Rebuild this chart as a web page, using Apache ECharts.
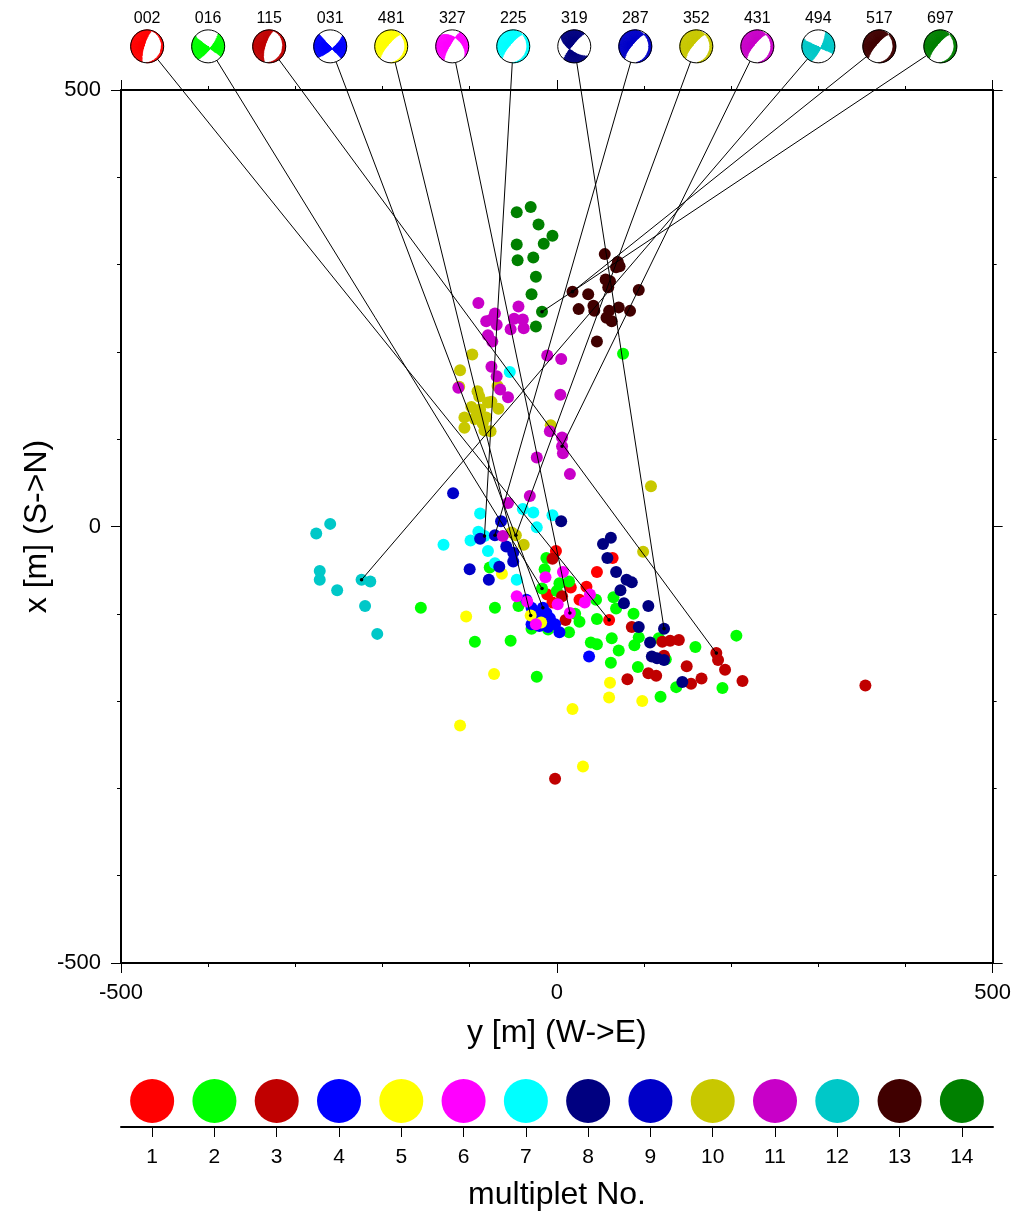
<!DOCTYPE html>
<html>
<head>
<meta charset="utf-8">
<script src="https://cdn.jsdelivr.net/npm/echarts@6/dist/echarts.min.js"></script>
<style>
  html, body { margin: 0; padding: 0; background: #fff; }
  #chart { width: 1014px; height: 1215px; }
</style>
</head>
<body>
<div id="chart"></div>
<script>
const FONT = 'Liberation Sans, Arial, Helvetica, sans-serif';

// multiplet colours, 1..14
const colors = ['#ff0000', '#00ff00', '#c00000', '#0000ff', '#ffff00', '#ff00ff', '#00ffff',
  '#000080', '#0000c8', '#c8c800', '#c800c8', '#00c8c8', '#400000', '#008000'];
const multipletLabels = ['1', '2', '3', '4', '5', '6', '7', '8', '9', '10', '11', '12', '13', '14'];

// hypocentres [y (W->E), x (S->N)] in metres, per multiplet
const m1 = [[-1, -28], [46, -52], [64, -36], [16, -70], [34, -69], [26, -84], [-11, -78], [-5, -87], [60, -107], [-18, -99]];
const m2 = [[76, 198], [-156, -93], [-71, -93], [-94, -132], [-53, -131], [-23, -172], [-77, -47], [-44, -91], [-12, -36],
  [-29, -117], [-10, -118], [14, -121], [26, -109], [46, -106], [45, -84], [3, -65], [14, -63], [39, -133], [46, -135],
  [0, -74], [65, -81], [68, -94], [88, -100], [94, -127], [89, -136], [63, -128], [71, -142], [62, -156], [93, -161],
  [119, -195], [137, -184], [159, -138], [190, -185], [206, -125], [125, -152], [117, -128], [21, -100], [-14, -49], [-17, -71]];
const m3 = [[-5, -37], [10, -107], [6, -80], [86, -115], [121, -132], [130, -131], [140, -130], [123, -148], [149, -160],
  [105, -168], [114, -171], [81, -175], [154, -180], [166, -174], [183, -145], [185, -153], [193, -164], [213, -177],
  [354, -182], [-2, -289]];
const m4 = [[-35, -84], [-29, -93], [-16, -93], [-12, -99], [-8, -105], [-2, -112], [3, -121], [-20, -114], [-29, -112],
  [-23, -101], [-10, -115], [37, -149]];
const m5 = [[-63, -54], [-104, -103], [-72, -169], [-111, -228], [-30, -102], [-18, -110], [18, -209], [61, -179],
  [60, -196], [98, -200], [30, -275]];
const m6 = [[-13, -58], [7, -52], [-46, -80], [-34, -86], [-24, -112], [1, -89], [15, -99], [32, -87], [38, -78]];
const m7 = [[-54, 177], [-88, 15], [-130, -21], [-99, -16], [-90, -6], [-79, -28], [-71, -42], [-46, -61], [-39, 20],
  [-27, 16], [-23, -1], [-5, 13], [-83, -11]];
const m8 = [[5, 6], [53, -20], [62, -13], [58, -36], [68, -52], [80, -61], [86, -64], [73, -73], [77, -88], [105, -91],
  [123, -117], [94, -115], [107, -133], [109, -149], [115, -151], [123, -153], [144, -178]];
const m9 = [[-119, 38], [-64, 6], [-71, -10], [-88, -14], [-58, -23], [-50, -30], [-50, -40], [-66, -46], [-78, -61], [-100, -49]];
const m10 = [[-97, 197], [-111, 179], [-112, 160], [-68, 161], [-91, 155], [-89, 149], [-79, 142], [-75, 143], [-67, 135],
  [-98, 137], [-88, 134], [-106, 125], [-93, 126], [-81, 125], [-94, 123], [-85, 118], [-106, 113], [-83, 110], [-76, 109],
  [-7, 116], [-52, -7], [-47, -10], [-38, -21], [108, 46], [99, -29]];
const m11 = [[-90, 256], [-71, 244], [-81, 235], [-69, 231], [-75, 237], [-44, 252], [-49, 238], [-39, 237], [-53, 226],
  [-38, 227], [-79, 219], [-74, 212], [-11, 196], [5, 192], [-75, 183], [-69, 172], [-113, 159], [-65, 157], [-56, 148],
  [4, 151], [-8, 109], [6, 102], [6, 92], [7, 84], [-23, 79], [15, 60], [-31, 35], [-56, 27], [-62, -11]];
const m12 = [[-260, 3], [-276, -8], [-272, -51], [-272, -61], [-252, -73], [-224, -61], [-214, -63], [-220, -91], [-206, -123]];
const m13 = [[55, 312], [70, 303], [72, 298], [68, 297], [18, 269], [36, 266], [56, 283], [61, 281], [59, 274], [94, 271],
  [25, 249], [42, 253], [43, 247], [60, 247], [71, 251], [84, 247], [57, 239], [63, 235], [46, 212]];
const m14 = [[-46, 360], [-30, 366], [-21, 346], [-5, 333], [-15, 324], [-46, 323], [-45, 305], [-27, 308], [-24, 286],
  [-29, 266], [-17, 246], [-24, 229]];
const multiplets = [m1, m2, m3, m4, m5, m6, m7, m8, m9, m10, m11, m12, m13, m14];

// focal mechanisms: event id, multiplet, the event it points to, T and P axes [trend, plunge]
const mechIds = ['002', '016', '115', '031', '481', '327', '225', '319', '287', '352', '431', '494', '517', '697'];
const mechGroup = [1, 2, 3, 4, 5, 6, 7, 8, 9, 10, 11, 12, 13, 14];
const mechEventY = [60, -17, 183, -16, -30, 15, -83, 123, -71, -47, 6, -224, 18, -17];
const mechEventX = [-107, -71, -145, -93, -102, -99, -11, -117, -10, -10, 92, -61, 269, 246];
const mechT = [[285, 30], [262, 8], [285, 25], [272, 10], [302, 28], [268, 20], [302, 28], [350, 10], [300, 28], [300, 28],
  [300, 28], [250, 8], [302, 28], [302, 28]];
const mechP = [[110, 58], [352, 12], [110, 62], [2, 12], [145, 58], [160, 40], [145, 58], [85, 25], [145, 58], [145, 58],
  [145, 58], [340, 12], [145, 58], [145, 58]];

// balls sit in a row above the map
const ballRowY = 550;
const ballX = (i) => -470 + 70 * i;
const BALL_R = 16.5;

function axisVec(tp) {
  const t = tp[0] * Math.PI / 180, p = tp[1] * Math.PI / 180;
  return [Math.cos(p) * Math.cos(t), Math.cos(p) * Math.sin(t), Math.sin(p)];
}
const dot = (a, b) => a[0] * b[0] + a[1] * b[1] + a[2] * b[2];

function beachball(cx, cy, R, tAx, pAx, color) {
  const T = axisVec(tAx);
  let P = axisVec(pAx);
  const d = dot(P, T);
  P = [P[0] - d * T[0], P[1] - d * T[1], P[2] - d * T[2]];
  const n = Math.sqrt(dot(P, P));
  P = P.map(v => v / n);
  const shaded = (r, az) => {
    const inc = 2 * Math.asin(r / Math.SQRT2);
    const g = [Math.sin(inc) * Math.cos(az), Math.sin(inc) * Math.sin(az), Math.cos(inc)];
    const a = dot(g, T), b = dot(g, P);
    return a * a > b * b;
  };
  const pt = (r, az) => [cx + r * R * Math.sin(az), cy - r * R * Math.cos(az)];
  const kids = [{ type: 'circle', shape: { cx, cy, r: R }, style: { fill: '#fff' } }];
  const N = 120, M = 40;
  for (let k = 0; k < N; k++) {
    const a0 = k * 2 * Math.PI / N, a1 = (k + 1) * 2 * Math.PI / N, am = (a0 + a1) / 2;
    let start = -1;
    for (let j = 0; j <= M; j++) {
      const s = j < M && shaded((j + 0.5) / M, am);
      if (s && start < 0) start = j;
      if (!s && start >= 0) {
        const r0 = start / M, r1 = j / M;
        kids.push({
          type: 'polygon',
          shape: { points: [pt(r0, a0), pt(r0, a1), pt(r1, a1), pt(r1, a0)] },
          style: { fill: color, stroke: color, lineWidth: 0.6 }
        });
        start = -1;
      }
    }
  }
  kids.push({ type: 'circle', shape: { cx, cy, r: R }, style: { fill: 'none', stroke: '#000', lineWidth: 1 } });
  return kids;
}

const chart = echarts.init(document.getElementById('chart'), null, { renderer: 'canvas' });

const mapAxis = (pos, showLabel) => ({
  type: 'value', position: pos, min: -500, max: 500, interval: 500,
  axisLine: { show: true, onZero: false, lineStyle: { color: '#000', width: 2 } },
  axisTick: { show: true, inside: false, length: 10, lineStyle: { color: '#000', width: 1 } },
  minorTick: { show: true, splitNumber: 5, length: 4, lineStyle: { color: '#000', width: 1 } },
  splitLine: { show: false },
  axisLabel: { show: showLabel, color: '#000', fontSize: 22, fontFamily: FONT },
});

const scatterSeries = multiplets.map((pts, i) => ({
  type: 'scatter', xAxisIndex: 0, yAxisIndex: 0, data: pts, symbolSize: 12,
  itemStyle: { color: colors[i], opacity: 1 }, z: 2, silent: true
}));

const option = {
  animation: false,
  backgroundColor: '#fff',
  grid: [
    { left: 121, right: 21, top: 90, bottom: 252 },
    { left: 121, right: 21, top: 1075, height: 52 }
  ],
  xAxis: [
    Object.assign(mapAxis('bottom', true), {
      gridIndex: 0, name: 'y [m] (W->E)', nameLocation: 'middle', nameGap: 54,
      nameTextStyle: { fontSize: 32, fontFamily: FONT, color: '#000' },
      axisLabel: { show: true, color: '#000', fontSize: 22, fontFamily: FONT, margin: 19 }
    }),
    Object.assign(mapAxis('top', false), { gridIndex: 0 }),
    {
      gridIndex: 1, type: 'category', data: multipletLabels, position: 'bottom',
      axisLine: { show: true, onZero: false, lineStyle: { color: '#000', width: 2 } },
      axisTick: { show: true, alignWithLabel: true, inside: false, length: 10, lineStyle: { color: '#000', width: 1 } },
      axisLabel: { color: '#000', fontSize: 21, fontFamily: FONT, margin: 20 },
      name: 'multiplet No.', nameLocation: 'middle', nameGap: 52,
      nameTextStyle: { fontSize: 32, fontFamily: FONT, color: '#000' }
    }
  ],
  yAxis: [
    Object.assign(mapAxis('left', true), {
      gridIndex: 0, name: 'x [m] (S->N)', nameLocation: 'middle', nameGap: 68, nameRotate: 90,
      nameMoveOverlap: false,
      nameTextStyle: { fontSize: 32, fontFamily: FONT, color: '#000' },
      axisLabel: { show: true, color: '#000', fontSize: 22, fontFamily: FONT, margin: 20 }
    }),
    Object.assign(mapAxis('right', false), { gridIndex: 0 }),
    { gridIndex: 1, type: 'value', min: -1, max: 1, show: false }
  ],
  series: [
    ...scatterSeries,
    {
      type: 'custom', xAxisIndex: 0, yAxisIndex: 0, clip: false, z: 5, silent: true,
      data: mechIds.map((id, i) => [ballX(i), ballRowY, mechEventY[i], mechEventX[i]]),
      renderItem: (params, api) => {
        const a = api.coord([api.value(0), api.value(1)]);
        const b = api.coord([api.value(2), api.value(3)]);
        return {
          type: 'group', children: [
            { type: 'line', shape: { x1: a[0], y1: a[1], x2: b[0], y2: b[1] }, style: { stroke: '#000', lineWidth: 1 } },
            { type: 'circle', shape: { cx: b[0], cy: b[1], r: 1.8 }, style: { fill: '#000' } }
          ]
        };
      }
    },
    {
      type: 'custom', xAxisIndex: 0, yAxisIndex: 0, clip: false, z: 6, silent: true,
      data: mechIds.map((id, i) => [ballX(i), ballRowY, i]),
      renderItem: (params, api) => {
        const i = api.value(2);
        const c = api.coord([api.value(0), api.value(1)]);
        const kids = beachball(c[0], c[1], BALL_R, mechT[i], mechP[i], colors[mechGroup[i] - 1]);
        kids.push({
          type: 'text',
          style: { text: mechIds[i], x: c[0], y: c[1] - 28, align: 'center', verticalAlign: 'middle',
            fontSize: 16, fontFamily: FONT, fill: '#000' }
        });
        return { type: 'group', children: kids };
      }
    },
    {
      type: 'scatter', xAxisIndex: 2, yAxisIndex: 2, symbolSize: 44, silent: true,
      data: multipletLabels.map((l, i) => ({ value: [i, 0], itemStyle: { color: colors[i], opacity: 1 } }))
    }
  ]
};
chart.setOption(option);
</script>
</body>
</html>
